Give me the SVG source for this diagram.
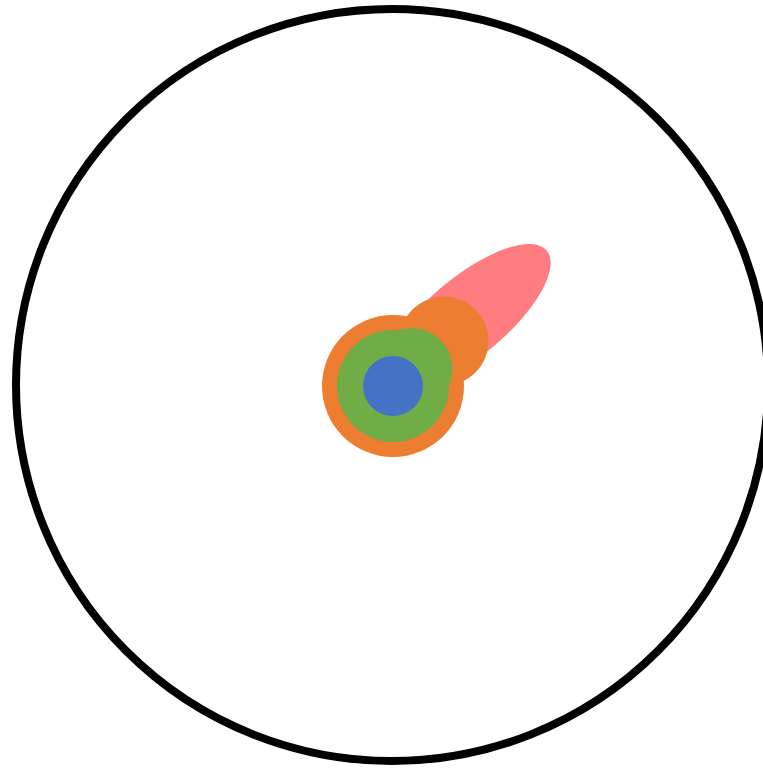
<svg xmlns="http://www.w3.org/2000/svg" width="763" height="768" viewBox="0 0 763 768">
<style>
.ring{fill:none;stroke:#000;stroke-width:8}
.orange{fill:#ED7D31}
.green{fill:#70AD47}
.blue{fill:#4472C4}
.pink{fill:#FF7C80}
</style>
<rect width="763" height="768" fill="#fff"/>
<g id="outer"><circle class="ring" cx="392" cy="385" r="376"/></g>
<g id="tail"><ellipse class="pink" cx="467.8" cy="316.7" rx="103" ry="39.3" transform="rotate(-40 467.8 316.7)"/></g>
<g id="orange-layer">
<circle class="orange" cx="393" cy="386" r="71"/>
<circle class="orange" cx="444" cy="341" r="44.5"/>
</g>
<g id="green-layer">
<circle class="green" cx="393" cy="386" r="56"/>
<circle class="green" cx="411.5" cy="369" r="41"/>
</g>
<g id="core"><circle class="blue" cx="393" cy="386" r="30"/></g>
</svg>
